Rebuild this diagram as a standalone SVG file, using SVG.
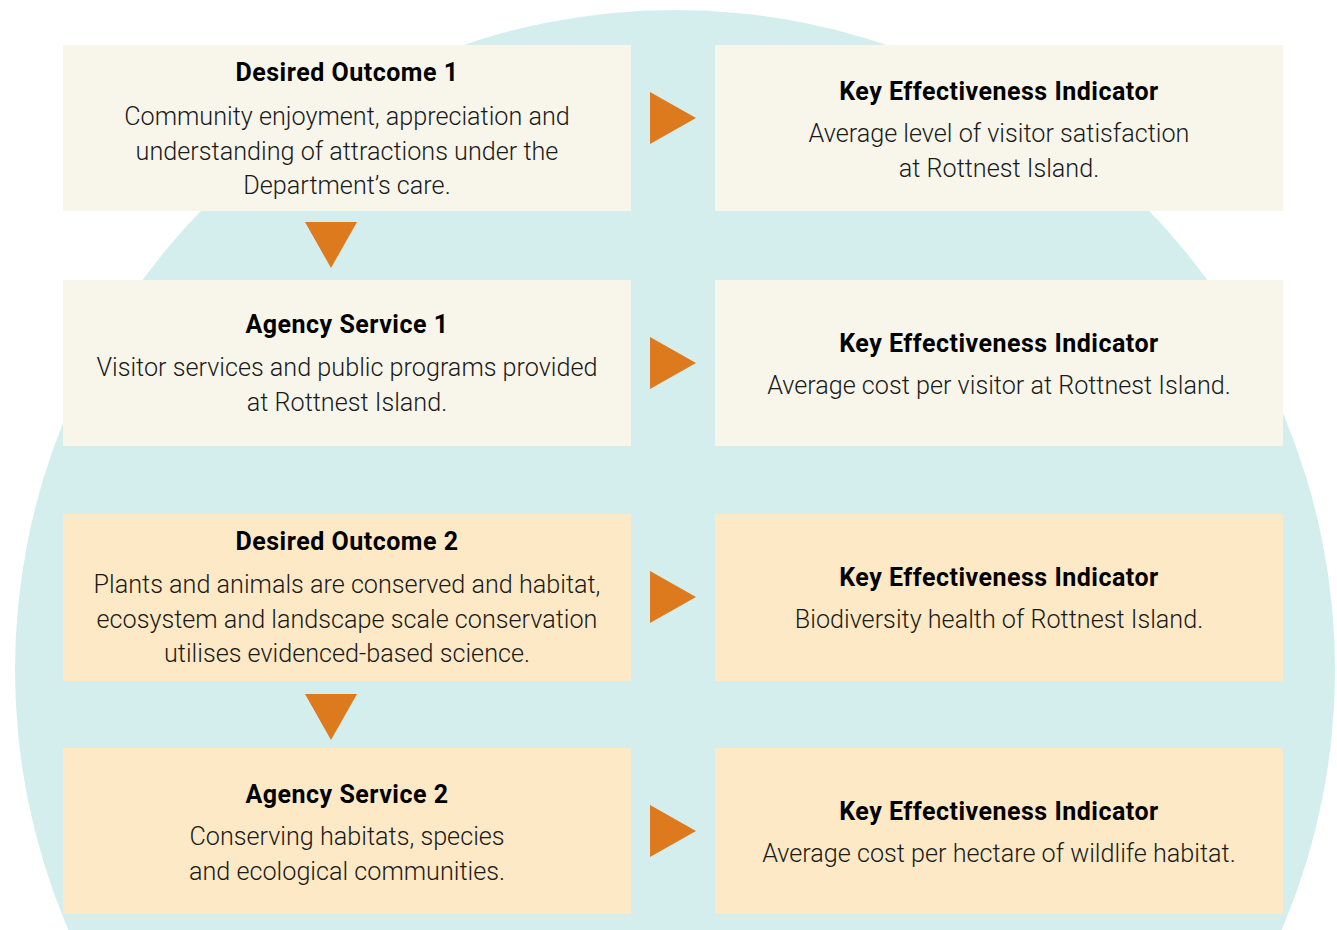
<svg xmlns="http://www.w3.org/2000/svg" width="1337" height="930" viewBox="0 0 1337 930">
  <style>
    .bg { fill: #ffffff; }
    .disc { fill: #d4eeee; }
    .box-a { fill: #f8f6ea; }
    .box-b { fill: #fde9c5; }
    .arrow { fill: #dc7a1d; }
    .title { font-family: Roboto, "Liberation Sans", sans-serif; font-weight: 700; font-size: 25px; letter-spacing: 0.5px; fill: #000000; text-anchor: middle; }
    .body { font-family: Roboto, "Liberation Sans", sans-serif; font-weight: 300; font-size: 25.2px; fill: #1a1a1a; text-anchor: middle; }
  </style>

  <rect class="bg" x="0" y="0" width="1337" height="930"/>
  <!-- large backdrop disc, cut off by the bottom edge -->
  <circle class="disc" cx="675" cy="670" r="660"/>

  <g id="connectors">
    <polygon class="arrow" points="650,92 696,118 650,144"/>
    <polygon class="arrow" points="650,337 696,363 650,389"/>
    <polygon class="arrow" points="650,571 696,597 650,623"/>
    <polygon class="arrow" points="650,805 696,831 650,857"/>
    <polygon class="arrow" points="305,222 357,222 331,268"/>
    <polygon class="arrow" points="305,694 357,694 331,740"/>
  </g>

  <g id="desired-outcome-1">
    <rect class="box-a" x="63" y="45" width="568" height="166"/>
    <text class="title" x="347" y="81">Desired Outcome 1</text>
    <text class="body" x="347" y="125">Community enjoyment, appreciation and</text>
    <text class="body" x="347" y="160">understanding of attractions under the</text>
    <text class="body" x="347" y="194">Department’s care.</text>
  </g>

  <g id="kei-1">
    <rect class="box-a" x="715" y="45" width="568" height="166"/>
    <text class="title" x="999" y="100">Key Effectiveness Indicator</text>
    <text class="body" x="999" y="142">Average level of visitor satisfaction</text>
    <text class="body" x="999" y="177">at Rottnest Island.</text>
  </g>

  <g id="agency-service-1">
    <rect class="box-a" x="63" y="280" width="568" height="166"/>
    <text class="title" x="347" y="333">Agency Service 1</text>
    <text class="body" x="347" y="376">Visitor services and public programs provided</text>
    <text class="body" x="347" y="411">at Rottnest Island.</text>
  </g>

  <g id="kei-2">
    <rect class="box-a" x="715" y="280" width="568" height="166"/>
    <text class="title" x="999" y="352">Key Effectiveness Indicator</text>
    <text class="body" x="999" y="394">Average cost per visitor at Rottnest Island.</text>
  </g>

  <g id="desired-outcome-2">
    <rect class="box-b" x="63" y="514" width="568" height="167"/>
    <text class="title" x="347" y="550">Desired Outcome 2</text>
    <text class="body" x="347" y="593">Plants and animals are conserved and habitat,</text>
    <text class="body" x="347" y="628">ecosystem and landscape scale conservation</text>
    <text class="body" x="347" y="662">utilises evidenced-based science.</text>
  </g>

  <g id="kei-3">
    <rect class="box-b" x="715" y="514" width="568" height="167"/>
    <text class="title" x="999" y="586">Key Effectiveness Indicator</text>
    <text class="body" x="999" y="628">Biodiversity health of Rottnest Island.</text>
  </g>

  <g id="agency-service-2">
    <rect class="box-b" x="63" y="748" width="568" height="166"/>
    <text class="title" x="347" y="803">Agency Service 2</text>
    <text class="body" x="347" y="845">Conserving habitats, species</text>
    <text class="body" x="347" y="880">and ecological communities.</text>
  </g>

  <g id="kei-4">
    <rect class="box-b" x="715" y="748" width="568" height="166"/>
    <text class="title" x="999" y="820">Key Effectiveness Indicator</text>
    <text class="body" x="999" y="862">Average cost per hectare of wildlife habitat.</text>
  </g>
</svg>
